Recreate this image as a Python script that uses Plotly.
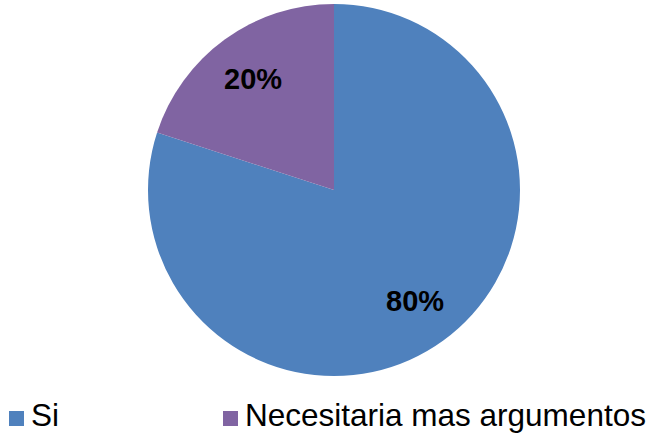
import math
import plotly.graph_objects as go

# Survey answers and their shares
labels = ["Si", "Necesitaria mas argumentos"]
values = [80, 20]
colors = ["#4F81BD", "#8064A2"]

W, H = 655, 434
cx, cy, r = 334, 190, 186          # pie centre and radius, px
label_r = 0.74                      # radial position of the value labels
font_family = "Liberation Sans, Arial, sans-serif"


def px_x(x):
    return x / W


def px_y(y):
    return 1 - y / H


fig = go.Figure(
    go.Pie(
        labels=labels,
        values=values,
        sort=False,
        direction="clockwise",
        rotation=0,
        marker=dict(colors=colors, line=dict(width=0)),
        textinfo="none",
        domain=dict(x=[px_x(cx - r), px_x(cx + r)], y=[px_y(cy + r), px_y(cy - r)]),
        hoverinfo="label+percent",
        showlegend=False,
    )
)

# Percentage labels, placed along each slice's middle angle
total = sum(values)
start = 0.0
annotations = []
for v in values:
    frac = v / total
    mid = (start + frac / 2) * 2 * math.pi      # clockwise from 12 o'clock
    start += frac
    lx = cx + label_r * r * math.sin(mid)
    ly = cy - label_r * r * math.cos(mid)
    annotations.append(dict(
        x=px_x(lx), y=px_y(ly), xref="paper", yref="paper",
        text=f"{round(frac * 100)}%", showarrow=False,
        xanchor="center", yanchor="middle",
        font=dict(family=font_family, size=29, color="black", weight="bold"),
    ))

# Legend row beneath the pie
legend_x = [9, 223]
legend_y = 418.5
box = 15
shapes = []
for lbl, col, x0 in zip(labels, colors, legend_x):
    shapes.append(dict(
        type="rect", xref="paper", yref="paper",
        x0=px_x(x0), x1=px_x(x0 + box),
        y0=px_y(legend_y + box / 2), y1=px_y(legend_y - box / 2),
        fillcolor=col, line=dict(width=0),
    ))
    annotations.append(dict(
        x=px_x(x0 + box + 6), y=0, xref="paper", yref="paper",
        text=lbl, showarrow=False, xanchor="left", yanchor="bottom",
        borderpad=0,
        font=dict(family=font_family, size=31.5, color="black"),
    ))

fig.update_layout(
    width=W,
    height=H,
    margin=dict(l=0, r=0, t=0, b=0),
    paper_bgcolor="white",
    plot_bgcolor="white",
    annotations=annotations,
    shapes=shapes,
)

fig.write_html("out.html")
